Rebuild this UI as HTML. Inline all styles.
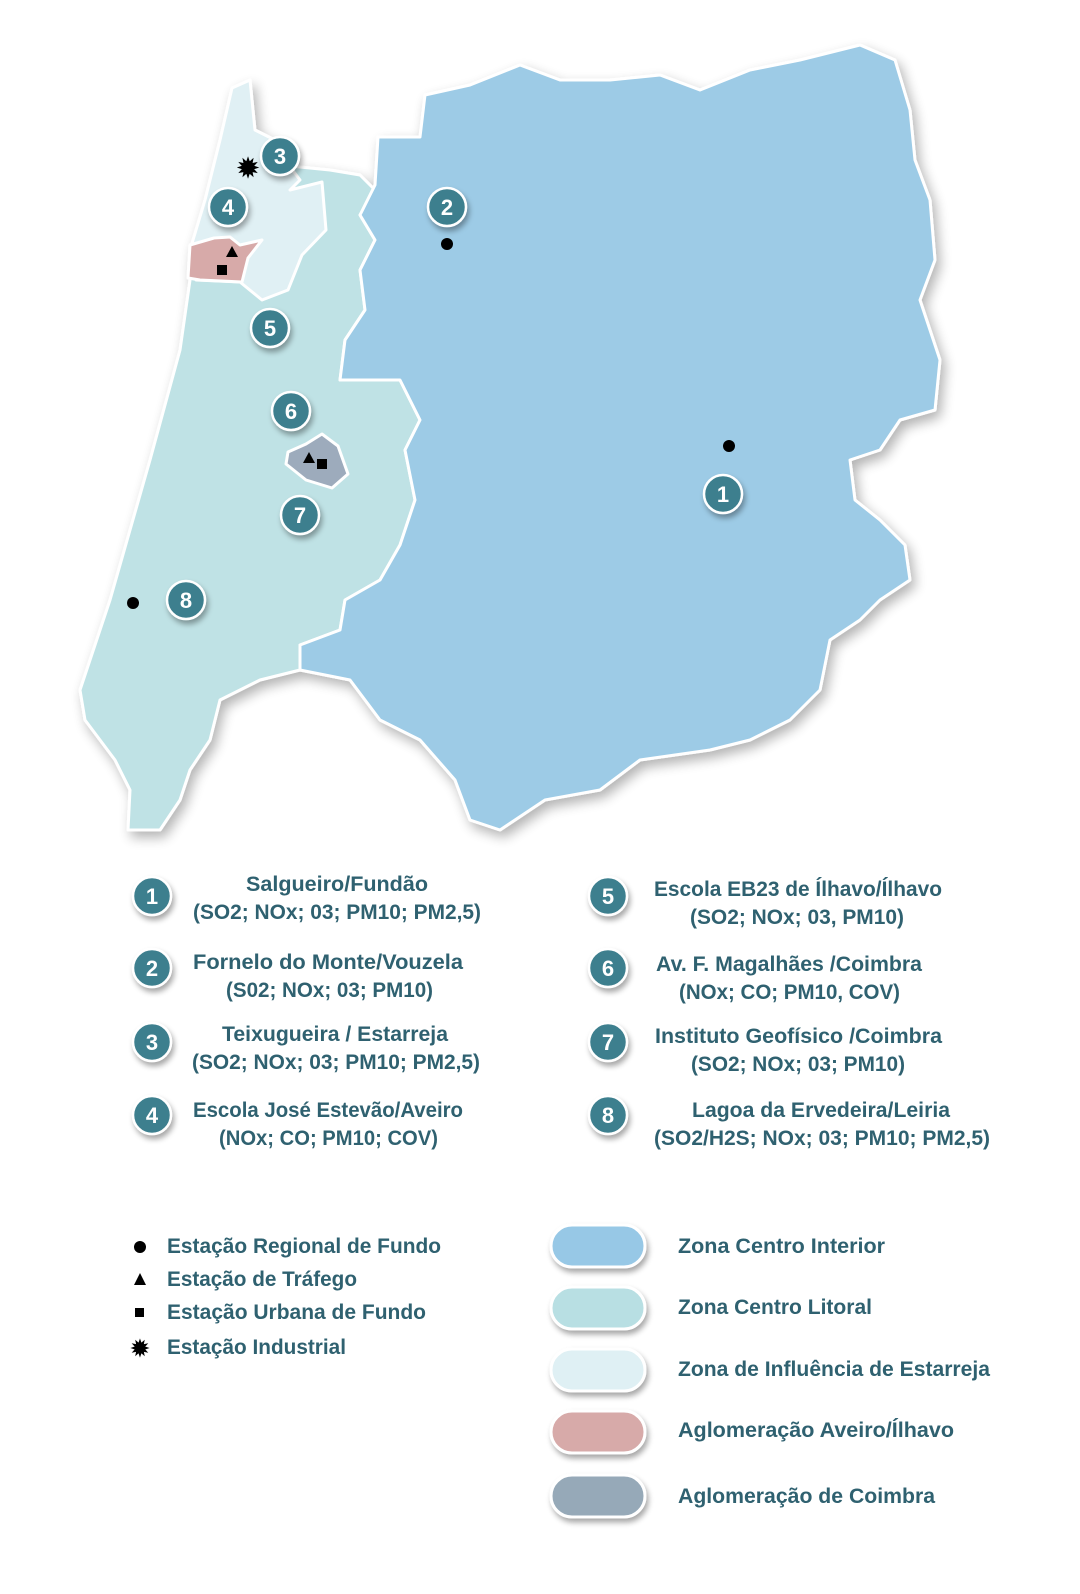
<!DOCTYPE html>
<html><head><meta charset="utf-8"><style>
html,body{margin:0;padding:0;background:#fff}
svg{display:block}
text{font-family:"Liberation Sans Narrow","Liberation Sans",sans-serif;fill:#2f6170}
</style></head><body>
<svg width="1080" height="1594" viewBox="0 0 1080 1594" xmlns="http://www.w3.org/2000/svg">
<defs>
<filter id="sh" x="-10%" y="-10%" width="130%" height="130%"><feGaussianBlur in="SourceAlpha" stdDeviation="6"/><feOffset dx="4" dy="6"/><feComponentTransfer><feFuncA type="linear" slope="0.3"/></feComponentTransfer><feMerge><feMergeNode/><feMergeNode in="SourceGraphic"/></feMerge></filter>
<filter id="sh2" x="-30%" y="-30%" width="170%" height="170%"><feGaussianBlur in="SourceAlpha" stdDeviation="3"/><feOffset dx="2" dy="4"/><feComponentTransfer><feFuncA type="linear" slope="0.35"/></feComponentTransfer><feMerge><feMergeNode/><feMergeNode in="SourceGraphic"/></feMerge></filter>
</defs>
<g filter="url(#sh)" stroke="#fff" stroke-width="3" stroke-linejoin="round">
<polygon fill="#bfe2e5" points="330,170 360,175 375,190 360,215 375,240 360,270 365,310 345,340 340,380 400,380 420,420 405,450 415,500 400,545 380,580 345,600 340,630 300,645 300,670 260,680 220,700 210,740 190,770 180,800 160,830 128,830 130,790 115,760 85,720 80,690 110,600 150,460 180,350 190,280 205,200 230,160"/>
<polygon fill="#e0f0f4" points="232,88 250,80 255,130 275,140 285,160 300,180 290,190 322,182 326,230 302,255 288,290 262,300 240,282 196,280 190,250 205,200 220,140"/>
<polygon fill="#d7aaa9" points="190,245 214,238 230,237 240,245 262,240 248,258 242,282 200,280 188,278"/>
<polygon fill="#9dabbc" points="288,452 306,444 322,434 338,446 348,474 332,488 306,480 286,464"/>
<polygon fill="#9dcbe6" points="378,137 420,137 425,95 470,85 520,65 560,80 610,80 660,75 700,90 750,70 800,60 860,45 895,60 910,110 915,160 930,200 935,260 920,300 940,360 935,410 900,420 880,450 850,460 855,500 880,520 905,545 910,580 880,600 860,620 830,640 820,690 790,720 750,740 710,750 640,760 600,790 545,800 500,830 470,820 455,780 420,740 380,720 350,680 300,670 300,645 340,630 345,600 380,580 400,545 415,500 405,450 420,420 400,380 340,380 345,340 365,310 360,270 375,240 360,215 375,185"/>
</g>
<g fill="#000">
<circle cx="447" cy="244" r="6"/><circle cx="729" cy="446" r="6"/><circle cx="133" cy="603" r="6"/>
<text x="248" y="177" font-size="26" style="fill:#000;font-weight:bold" text-anchor="middle">✹</text>
<polygon points="232,246 238,257 226,257"/><rect x="217" y="265" width="10" height="10"/>
<polygon points="309,452 315,463 303,463"/><rect x="317" y="459" width="10" height="10"/>
</g>
<g filter="url(#sh2)">
<g fill="#3e7f8e" stroke="#fff" stroke-width="2.5">
<circle cx="280" cy="156" r="19"/><circle cx="447" cy="207" r="19"/><circle cx="228" cy="207" r="19"/><circle cx="270" cy="328" r="19"/><circle cx="291" cy="411" r="19"/><circle cx="300" cy="515" r="19"/><circle cx="723" cy="494" r="19"/><circle cx="186" cy="600" r="19"/>
<circle cx="152" cy="896" r="19"/><circle cx="152" cy="968" r="19"/><circle cx="152" cy="1042" r="19"/><circle cx="152" cy="1115" r="19"/>
<circle cx="608" cy="896" r="19"/><circle cx="608" cy="968" r="19"/><circle cx="608" cy="1042" r="19"/><circle cx="608" cy="1115" r="19"/>
</g>
</g>
<g font-size="22" text-anchor="middle" style="font-weight:bold">
<text x="280" y="164" style="fill:#fff">3</text><text x="447" y="215" style="fill:#fff">2</text><text x="228" y="215" style="fill:#fff">4</text><text x="270" y="336" style="fill:#fff">5</text><text x="291" y="419" style="fill:#fff">6</text><text x="300" y="523" style="fill:#fff">7</text><text x="723" y="502" style="fill:#fff">1</text><text x="186" y="608" style="fill:#fff">8</text>
<text x="152" y="904" style="fill:#fff">1</text><text x="152" y="976" style="fill:#fff">2</text><text x="152" y="1050" style="fill:#fff">3</text><text x="152" y="1123" style="fill:#fff">4</text>
<text x="608" y="904" style="fill:#fff">5</text><text x="608" y="976" style="fill:#fff">6</text><text x="608" y="1050" style="fill:#fff">7</text><text x="608" y="1123" style="fill:#fff">8</text>
</g>
<g font-size="21" font-weight="bold">
<text x="246" y="891" textLength="182" lengthAdjust="spacingAndGlyphs">Salgueiro/Fundão</text>
<text x="193" y="919" textLength="288" lengthAdjust="spacingAndGlyphs">(SO2; NOx; 03; PM10; PM2,5)</text>
<text x="193" y="969" textLength="270" lengthAdjust="spacingAndGlyphs">Fornelo do Monte/Vouzela</text>
<text x="226" y="997" textLength="207" lengthAdjust="spacingAndGlyphs">(S02; NOx; 03; PM10)</text>
<text x="222" y="1041" textLength="226" lengthAdjust="spacingAndGlyphs">Teixugueira / Estarreja</text>
<text x="192" y="1069" textLength="288" lengthAdjust="spacingAndGlyphs">(SO2; NOx; 03; PM10; PM2,5)</text>
<text x="193" y="1117" textLength="270" lengthAdjust="spacingAndGlyphs">Escola José Estevão/Aveiro</text>
<text x="219" y="1145" textLength="219" lengthAdjust="spacingAndGlyphs">(NOx; CO; PM10; COV)</text>
<text x="654" y="896" textLength="288" lengthAdjust="spacingAndGlyphs">Escola EB23 de Ílhavo/Ílhavo</text>
<text x="690" y="924" textLength="214" lengthAdjust="spacingAndGlyphs">(SO2; NOx; 03, PM10)</text>
<text x="656" y="971" textLength="266" lengthAdjust="spacingAndGlyphs">Av. F. Magalhães /Coimbra</text>
<text x="679" y="999" textLength="221" lengthAdjust="spacingAndGlyphs">(NOx; CO; PM10, COV)</text>
<text x="655" y="1043" textLength="287" lengthAdjust="spacingAndGlyphs">Instituto Geofísico /Coimbra</text>
<text x="691" y="1071" textLength="214" lengthAdjust="spacingAndGlyphs">(SO2; NOx; 03; PM10)</text>
<text x="692" y="1117" textLength="258" lengthAdjust="spacingAndGlyphs">Lagoa da Ervedeira/Leiria</text>
<text x="654" y="1145" textLength="336" lengthAdjust="spacingAndGlyphs">(SO2/H2S; NOx; 03; PM10; PM2,5)</text>
<text x="167" y="1253" textLength="274" lengthAdjust="spacingAndGlyphs">Estação Regional de Fundo</text>
<text x="167" y="1286" textLength="190" lengthAdjust="spacingAndGlyphs">Estação de Tráfego</text>
<text x="167" y="1319" textLength="259" lengthAdjust="spacingAndGlyphs">Estação Urbana de Fundo</text>
<text x="167" y="1354" textLength="179" lengthAdjust="spacingAndGlyphs">Estação Industrial</text>
<text x="678" y="1253" textLength="207" lengthAdjust="spacingAndGlyphs">Zona Centro Interior</text>
<text x="678" y="1314" textLength="194" lengthAdjust="spacingAndGlyphs">Zona Centro Litoral</text>
<text x="678" y="1376" textLength="312" lengthAdjust="spacingAndGlyphs">Zona de Influência de Estarreja</text>
<text x="678" y="1437" textLength="276" lengthAdjust="spacingAndGlyphs">Aglomeração Aveiro/Ílhavo</text>
<text x="678" y="1503" textLength="257" lengthAdjust="spacingAndGlyphs">Aglomeração de Coimbra</text>
</g>
<g fill="#000">
<circle cx="140" cy="1247" r="6"/>
<polygon points="140,1273 146,1285 134,1285"/>
<rect x="135" y="1308" width="9" height="9"/>
<text x="140" y="1356" font-size="22" style="fill:#000;font-weight:bold" text-anchor="middle">✹</text>
</g>
<g filter="url(#sh2)" stroke="#fff" stroke-width="3">
<rect x="551" y="1225" width="94" height="42" rx="21" fill="#97c8e6"/>
<rect x="551" y="1287" width="94" height="42" rx="21" fill="#b8dfe3"/>
<rect x="551" y="1349" width="94" height="42" rx="21" fill="#dff0f4"/>
<rect x="551" y="1411" width="94" height="42" rx="21" fill="#d7aaa9"/>
<rect x="551" y="1475" width="94" height="42" rx="21" fill="#96a9b8"/>
</g>
</svg>
</body></html>
